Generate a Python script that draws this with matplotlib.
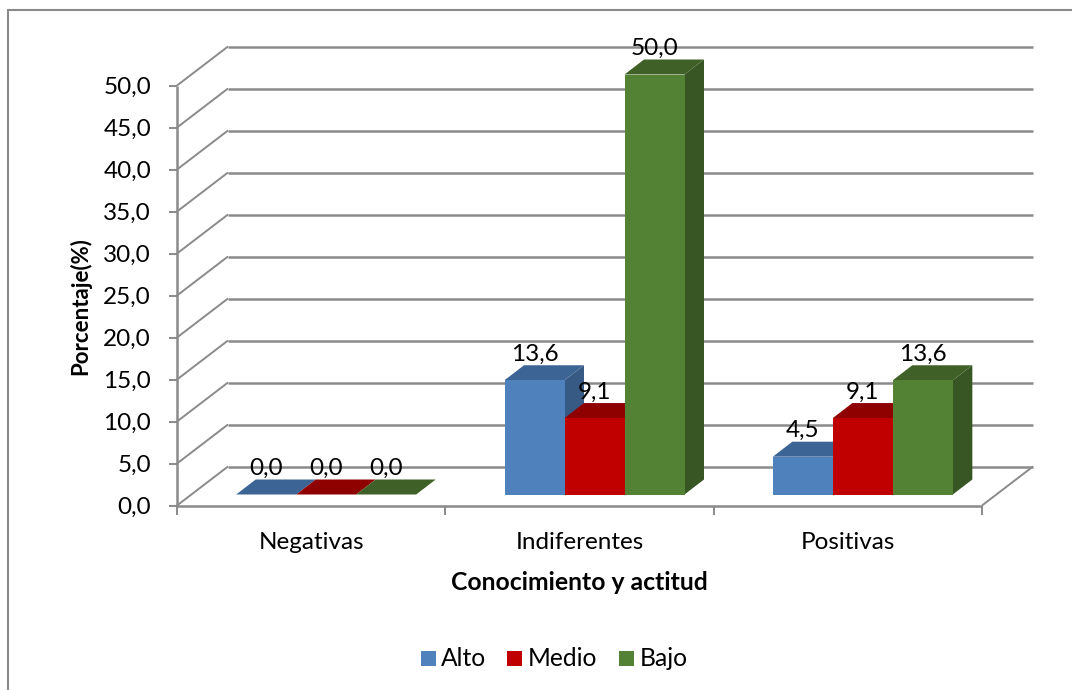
import matplotlib
matplotlib.use('Agg')
import matplotlib.pyplot as plt
from matplotlib.lines import Line2D
from matplotlib.patches import Polygon, Rectangle

# values
categories = ['Negativas', 'Indiferentes', 'Positivas']
series_names = ['Alto', 'Medio', 'Bajo']
alto = [0.0, 13.6, 4.5]
medio = [0.0, 9.1, 9.1]
bajo = [0.0, 50.0, 13.6]
y_ticks = [0, 5, 10, 15, 20, 25, 30, 35, 40, 45, 50]

front_cols = ['#4f81bd', '#c00000', '#548235']
top_cols = ['#3c6494', '#8f0000', '#3f6026']
side_cols = ['#375a85', '#7f0000', '#375623']
grid_col = '#8a8a8a'

W, H = 1072, 690
plt.rcParams['font.family'] = ['Lato', 'DejaVu Sans']

fig = plt.figure(figsize=(W/100, H/100), dpi=100)
# front plane of the fake 3d box, in figure pixels
left, right, y0_px, y50_px = 177, 982, 505.5, 85.5
ax = fig.add_axes([left/W, 1-y0_px/H, (right-left)/W, (y0_px-y50_px)/H])
ax.set_xlim(0, 3)
ax.set_ylim(0, 50)
ax.axis('off')

# depth of the box and of the bars, as fractions of x and y units
unit_x = (right-left)/3
unit_y = (y0_px-y50_px)/50
depth_x = 51/unit_x
depth_y = 39/unit_y
gap_x, gap_y = 15/unit_x, 11/unit_y
bar_dx, bar_dy = 19.5/unit_x, 15/unit_y
bar_w = 60/unit_x

def line(xs, ys, lw=1.6):
    ax.plot(xs, ys, color=grid_col, lw=lw, clip_on=False, solid_capstyle='butt', zorder=1)

def fmt(v):
    return ('%.1f' % v).replace('.', ',')

# back wall and side floor
for t in y_ticks:
    line([depth_x, 3+depth_x], [t+depth_y, t+depth_y], lw=1.8)
    line([0, depth_x], [t, t+depth_y], lw=1.4)
line([3, 3+depth_x], [0, depth_y], lw=1.4)
line([0, 3], [0, 0], lw=1.8)
line([0, 0], [0, 50], lw=1.8)
for t in y_ticks:
    line([-8/unit_x, 0], [t, t], lw=1.4)
    ax.text(-26/unit_x, t-2/unit_y, fmt(t), ha='right', va='center', fontsize=17.5)
for i in range(4):
    line([i, i], [0, -9/unit_y], lw=1.4)
for i, c in enumerate(categories):
    ax.text(i+0.5, -37/unit_y, c, ha='center', va='center', fontsize=17.5)

ax.text(1.5, -77/unit_y, 'Conocimiento y actitud', ha='center', va='center',
        fontsize=17.8, fontweight='bold')
ax.text(-97/unit_x, 23.7, 'Porcentaje(%)', rotation=90, ha='center', va='center',
        fontsize=16, fontweight='bold')

# each bar is painted over the side of the one on its left
series = [alto, medio, bajo]
for i in range(3):
    center = i+0.5+gap_x
    for s in range(3):
        v = series[s][i]
        x0 = center-1.5*bar_w+s*bar_w
        x1 = x0+bar_w
        b = gap_y
        z = 3+s
        ax.add_patch(Polygon([(x1, b), (x1+bar_dx, b+bar_dy), (x1+bar_dx, b+bar_dy+v), (x1, b+v)],
                             fc=side_cols[s], ec='none', zorder=z, clip_on=False))
        ax.add_patch(Polygon([(x0, b+v), (x1, b+v), (x1+bar_dx, b+bar_dy+v), (x0+bar_dx, b+bar_dy+v)],
                             fc=top_cols[s], ec='none', zorder=z, clip_on=False))
        ax.add_patch(Rectangle((x0, b), bar_w, v, fc=front_cols[s], ec='none', zorder=z, clip_on=False))
        ax.text(x0+bar_w*0.5, b+bar_dy+v+11/unit_y, fmt(v),
                ha='center', va='center', fontsize=17.5, zorder=10, clip_on=False)

# outer frame, only the left and top edges are inside the picture
fig.add_artist(Line2D([8/W, 8/W, 1], [0, 1-10/H, 1-10/H], color=grid_col, lw=1.5,
                      solid_joinstyle='miter'))

# legend built by hand because matplotlib spacing differs
leg_x = [421, 507, 619]
leg_txt = [441, 528, 640]
for px, tx, n, c in zip(leg_x, leg_txt, series_names, front_cols):
    fig.add_artist(Rectangle((px/W, 1-666/H), 15/W, 15/H, transform=fig.transFigure, fc=c, ec='none'))
    fig.text(tx/W, 1-659/H, n, ha='left', va='center', fontsize=17.7)

fig.savefig('out.png', dpi=100)
